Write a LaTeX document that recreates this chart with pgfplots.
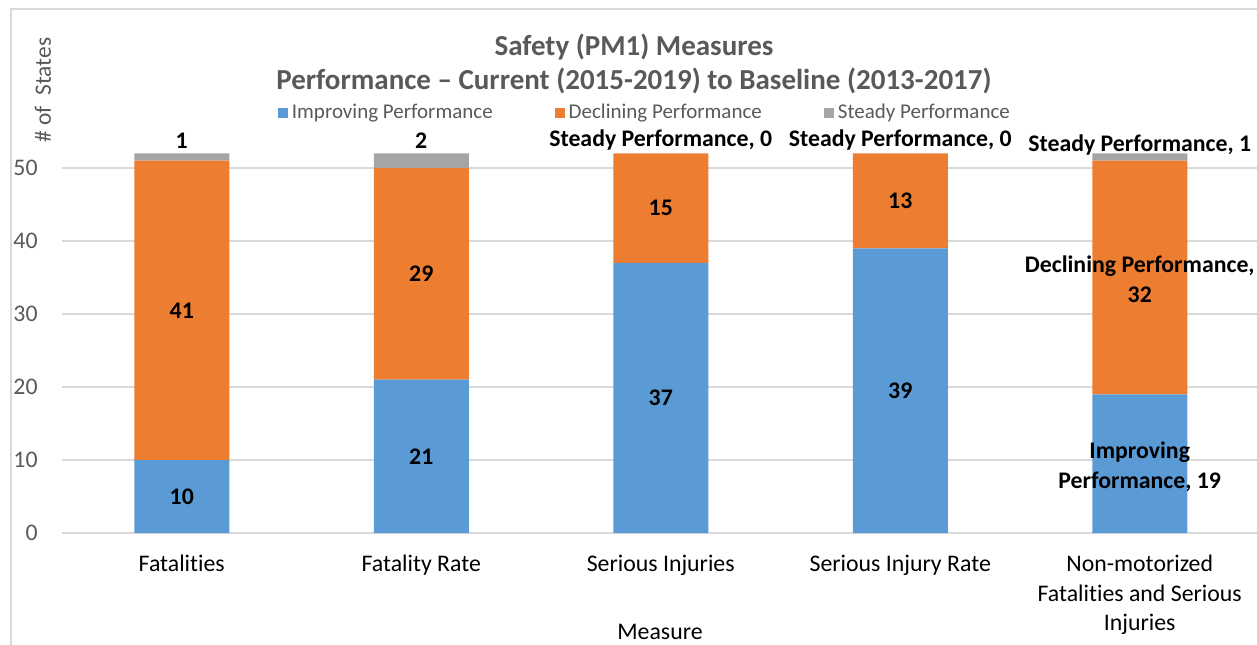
\documentclass[border=0pt]{standalone}
\usepackage{fontspec}
\setmainfont{Carlito}[Ligatures={NoCommon}]
\usepackage{pgfplots}
\pgfplotsset{compat=1.18}
\definecolor{cblue}{HTML}{5B9BD5}
\definecolor{corange}{HTML}{ED7D31}
\definecolor{cgray}{HTML}{A5A5A5}
\definecolor{txtgray}{HTML}{595959}
\definecolor{gridgray}{HTML}{D9D9D9}
\tikzset{dl/.style={font=\bfseries\fontsize{11.9}{15}\selectfont, align=center}}
\begin{document}
\begin{tikzpicture}[x=1pt,y=1pt]
\useasboundingbox (0,0) rectangle (628.5,322);
\draw[gridgray, line width=1pt] (5.5,-10) -- (5.5,317.5) -- (640,317.5);
\node[align=center, text=txtgray, font=\bfseries\fontsize{14.5}{17}\selectfont] at (317,290) {Safety (PM1) Measures\\Performance -- Current (2015-2019) to Baseline (2013-2017)};
\node[rotate=90, text=txtgray, font=\fontsize{11.7}{14}\selectfont] at (21.5,277) {\#\ of\ \ States};
\node[font=\fontsize{11.9}{14}\selectfont] at (330,6) {Measure};
\begin{axis}[
  at={(31pt,55.5pt)}, anchor=south west,
  scale only axis, width=598.75pt, height=189.8pt,
  xmin=-0.5, xmax=4.5, ymin=0, ymax=52,
  clip=false,
  ybar stacked, bar width=47.5pt,
  axis line style={draw=none},
  major tick length=0pt,
  ymajorgrids, grid style={gridgray, line width=1pt},
  ytick={0,10,20,30,40,50},
  xtick={0,1,2,3,4},
  xticklabels={Fatalities, Fatality Rate, Serious Injuries, Serious Injury Rate, {Non-motorized\\Fatalities and Serious\\Injuries}},
  xticklabel style={align=center, font=\fontsize{11.9}{14.75}\selectfont, anchor=north, inner sep=0pt, yshift=-11pt},
  yticklabel style={font=\fontsize{11.9}{14}\selectfont, text=txtgray, inner sep=0pt, xshift=-12pt, anchor=east},
  /pgf/number format/assume math mode=true,
  legend columns=3,
  legend style={draw=none, fill=none, at={(0.4876,1.1064)}, anchor=center,
    font=\fontsize{10.5}{12}\selectfont, text=txtgray,
    /tikz/every even column/.append style={column sep=29pt}},
  legend image code/.code={\fill[#1] (0pt,-2.5pt) rectangle (5pt,2.5pt);},
]
\addplot[fill=cblue, draw=none] coordinates {(0,10) (1,21) (2,37) (3,39) (4,19)};
\addplot[fill=corange, draw=none] coordinates {(0,41) (1,29) (2,15) (3,13) (4,32)};
\addplot[fill=cgray, draw=none] coordinates {(0,1) (1,2) (2,0) (3,0) (4,1)};
\legend{Improving Performance, Declining Performance, Steady Performance}
\coordinate (a0) at (axis cs:0,5);
\coordinate (b0) at (axis cs:0,30.5);
\coordinate (c0) at (axis cs:0,52);
\coordinate (a1) at (axis cs:1,10.5);
\coordinate (b1) at (axis cs:1,35.5);
\coordinate (c1) at (axis cs:1,52);
\coordinate (a2) at (axis cs:2,18.5);
\coordinate (b2) at (axis cs:2,44.5);
\coordinate (c2) at (axis cs:2,52);
\coordinate (a3) at (axis cs:3,19.5);
\coordinate (b3) at (axis cs:3,45.5);
\coordinate (c3) at (axis cs:3,52);
\coordinate (a4) at (axis cs:4,9.5);
\coordinate (b4) at (axis cs:4,35);
\coordinate (c4) at (axis cs:4,52);
\end{axis}
\node[dl] at (a0) {10};
\node[dl] at (b0) {41};
\node[dl, anchor=base, yshift=2.3pt] at (c0) {1};
\node[dl] at (a1) {21};
\node[dl] at (b1) {29};
\node[dl, anchor=base, yshift=2.3pt] at (c1) {2};
\node[dl] at (a2) {37};
\node[dl] at (b2) {15};
\node[dl, anchor=base, yshift=3.5pt] at (c2) {Steady Performance, 0};
\node[dl] at (a3) {39};
\node[dl] at (b3) {13};
\node[dl, anchor=base, yshift=3.5pt] at (c3) {Steady Performance, 0};
\node[dl, yshift=-1.5pt] at (a4) {Improving\\Performance, 19};
\node[dl, yshift=-1pt] at (b4) {Declining Performance,\\32};
\node[dl, anchor=base, yshift=1pt] at (c4) {Steady Performance, 1};
\end{tikzpicture}
\end{document}
